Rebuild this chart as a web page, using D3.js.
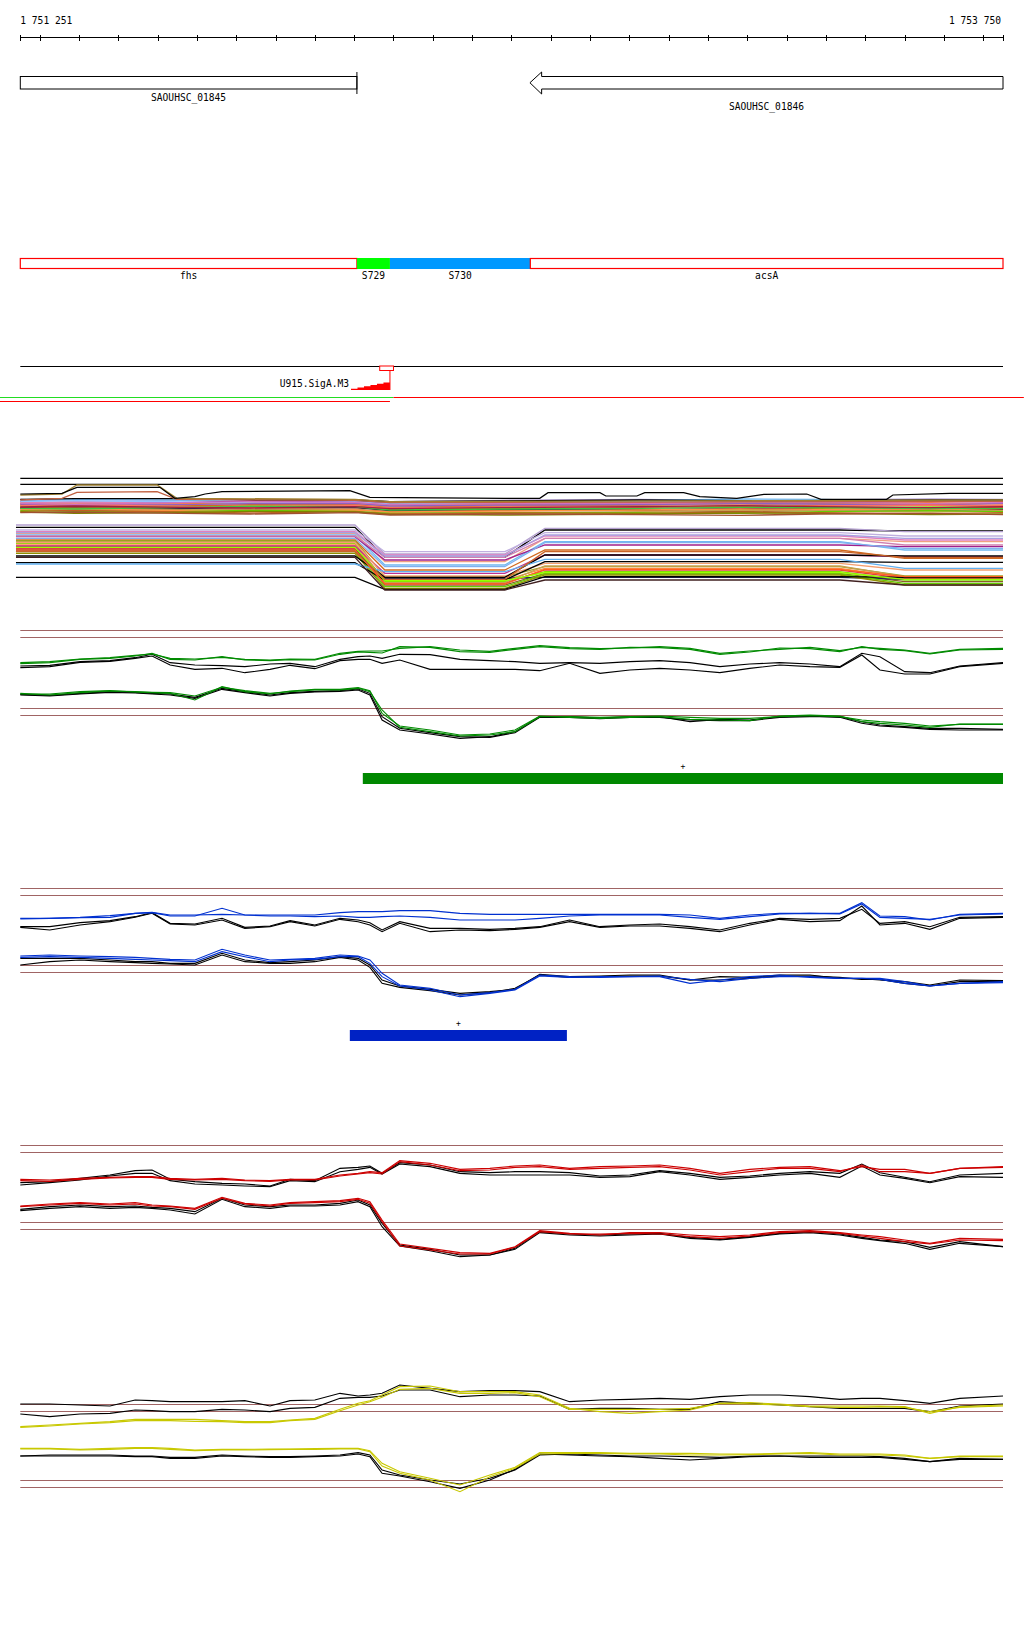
<!DOCTYPE html>
<html><head><meta charset="utf-8">
<script src="https://cdn.jsdelivr.net/npm/d3@7"></script>
<style>
body{margin:0;background:#fff}
svg{display:block}
text{font-family:"DejaVu Sans Mono",monospace;font-size:9.6px;fill:#000}
</style></head>
<body><svg id="c" width="1024" height="1640"></svg>
<script>
// ---------------- DATA ----------------
const regionStart = 1751251, regionEnd = 1753750;
const rulerLabels = ["1 751 251", "1 753 750"];
const rulerTicks = [1751251].concat(d3.range(1751300, 1753750, 100)).concat([1753750]);

const geneNames  = ["SAOUHSC_01845", "SAOUHSC_01846"];
const geneStarts = [1751251, 1752547];
const geneEnds   = [1752107, 1753750];
const geneStrand = ["+", "-"];

const featNames  = ["fhs", "S729", "S730", "acsA"];
const featStarts = [1751251, 1752107, 1752191, 1752548];
const featEnds   = [1752107, 1752191, 1752548, 1753750];
const featKind   = ["cds", "srnaA", "srnaB", "cds"];

const promoterName = "U915.SigA.M3";
const promoterStart = 1752092, promoterSite = 1752191;
const promoterBoxStart = 1752165, promoterBoxEnd = 1752200;

const tuStarts = [1751199, 1752200, 1751199];
const tuEnds   = [1752200, 1753803, 1752191];
const tuKind   = ["green", "red", "red"];
const tuRow    = [0, 0, 1];

// probe positions for the expression traces
const probePos = [1751251,1751326,1751403,1751479,1751543,1751586,1751632,1751695,1751764,1751822,1751886,1751937,1752000,1752064,1752110,1752140,1752171,1752216,1752293,1752369,1752445,1752509,1752572,1752648,1752725,1752801,1752877,1752954,1753030,1753106,1753182,1753259,1753335,1753391,1753437,1753500,1753564,1753640,1753750];

// GREEN condition
const gUpC1 = [272,275,283,287,294,298,285,283,288,282,280,283,282,300,306,307,307,315,320,310,306,315,323,317,314,316,320,315,300,307,312,318,308,318,315,310,300,312,315];
const gUpC2 = [269,272,282,285,292,300,282,280,290,280,278,281,280,297,304,303,301,320,318,305,303,312,320,314,312,318,317,312,297,304,316,314,305,320,312,308,298,310,312];
const gUpK1 = [262,264,275,278,287,297,272,265,263,260,268,270,260,282,290,292,285,297,296,282,278,275,270,272,270,275,278,272,260,268,272,268,260,300,290,245,242,262,272];
const gUpK2 = [257,260,273,276,285,292,265,252,255,242,252,264,254,278,282,282,270,280,252,252,252,252,248,270,240,250,255,250,242,255,265,260,258,295,250,238,238,260,270];
const gLoC1 = [180,175,182,187,185,183,182,172,198,188,180,185,190,190,195,185,130,78,65,52,55,65,110,110,108,110,112,108,105,105,110,113,110,100,95,90,82,87,87];
const gLoC2 = [178,178,185,188,184,182,180,160,200,185,178,187,192,192,197,188,120,82,70,55,58,70,112,108,105,108,110,102,100,98,112,115,112,95,90,85,78,88,88];
const gLoK1 = [177,174,180,185,183,180,178,168,195,185,175,182,186,188,193,180,110,75,62,50,48,62,108,108,104,108,108,100,98,98,108,110,110,95,85,80,75,75,72];
const gLoK2 = [175,172,178,183,181,178,175,165,192,182,172,180,184,186,190,175,100,70,58,45,50,65,110,110,106,110,110,95,102,100,110,112,108,90,82,78,72,70,70];
const gRef = [369, 348, 135, 114];
const gSegStart = 1752122, gSegEnd = 1753750;

// BLUE condition
const bUpC1 = [285,285,287,288,300,303,295,295,297,295,295,295,295,302,305,305,305,308,308,300,297,297,297,297,297,297,297,295,285,295,300,300,300,332,292,290,280,297,300];
const bUpC2 = [283,285,288,293,300,302,292,292,315,295,292,292,290,292,288,288,290,292,288,280,280,280,285,292,295,295,295,288,282,290,298,300,298,328,288,285,282,295,298];
const bUpK1 = [260,260,272,278,290,302,270,268,285,258,262,278,265,285,280,272,250,275,255,255,252,255,260,280,260,265,268,260,250,270,285,282,285,312,270,275,260,288,290];
const bUpK2 = [258,250,265,275,288,300,268,265,280,255,260,275,262,282,275,265,245,270,245,250,248,252,258,275,258,262,262,255,245,265,282,275,278,322,265,270,252,285,288];
const bLoC1 = [172,175,172,170,168,165,162,160,192,175,160,162,165,175,172,160,120,85,75,55,62,72,115,110,108,110,112,102,95,105,110,110,105,105,105,95,82,90,95];
const bLoC2 = [168,170,168,165,162,160,158,155,185,170,155,160,162,170,170,150,110,82,70,50,60,70,112,108,110,110,110,90,100,110,115,108,105,105,102,90,82,90,92];
const bLoK1 = [165,165,165,160,155,155,150,150,180,160,152,155,160,170,165,145,100,82,72,60,65,72,117,110,112,115,115,100,110,108,115,115,105,104,100,95,85,100,98];
const bLoK2 = [145,155,160,155,152,150,148,145,175,155,150,150,155,168,160,138,90,78,68,55,62,75,115,108,110,112,112,100,100,105,112,112,108,102,102,90,82,95,95];
const bRef = [375, 354, 144, 123];
const bSegStart = 1752089, bSegEnd = 1752641;

// RED condition
const rUpC1 = [282,280,285,288,290,290,285,282,285,280,278,282,282,295,300,305,302,338,330,312,315,322,325,315,320,322,325,315,300,312,318,320,308,320,312,312,300,315,320];
const rUpC2 = [278,276,282,286,288,288,282,280,282,278,276,280,280,292,298,302,298,335,325,308,310,318,320,312,315,318,320,310,295,305,315,315,305,325,305,305,300,315,318];
const rUpK1 = [272,275,285,295,308,310,282,275,270,268,262,282,278,315,318,322,300,332,325,305,302,305,305,302,292,295,308,300,288,292,300,305,300,328,302,288,275,295,300];
const rUpK2 = [265,272,280,292,300,300,278,268,265,262,260,278,275,305,312,318,298,328,320,300,295,295,295,295,288,290,305,295,282,288,295,300,288,322,295,285,272,290,288];
const rLoC1 = [202,208,212,208,212,205,202,195,228,210,205,212,215,218,225,215,160,88,75,62,60,80,128,120,115,122,122,115,110,115,125,128,122,115,110,100,90,105,102];
const rLoC2 = [200,205,210,205,208,202,200,192,225,208,202,210,212,215,222,210,155,82,70,58,58,78,125,118,118,120,118,110,105,112,122,125,120,112,105,95,88,100,98];
const rLoK1 = [192,200,205,200,202,198,195,185,225,205,200,205,205,210,220,205,150,85,72,55,55,75,125,118,115,118,120,108,102,110,120,125,118,108,100,95,78,95,80];
const rLoK2 = [188,195,200,195,198,195,190,178,222,200,195,202,202,205,215,200,140,82,68,50,55,72,122,115,112,115,118,105,100,108,118,122,115,105,98,90,72,90,80];
const rRef = [384, 363, 153, 132];

// YELLOW condition
const yUpC1 = [260,265,270,275,282,282,282,282,278,275,275,280,285,312,330,338,355,380,382,365,365,365,355,315,305,300,305,310,330,332,328,322,322,322,322,320,300,320,325];
const yUpC2 = [258,262,268,272,278,278,278,276,275,272,272,278,282,308,325,335,348,372,375,360,360,362,350,312,312,312,312,315,330,328,325,320,318,318,320,318,305,318,322];
const yUpK1 = [328,328,325,322,340,338,335,335,335,338,322,338,340,360,352,355,360,385,375,365,368,368,365,335,340,342,345,342,350,355,355,350,342,345,345,338,330,345,352];
const yUpK2 = [298,290,298,300,310,308,305,305,312,310,305,315,318,345,348,348,352,370,370,350,355,355,352,312,315,315,312,312,335,330,325,320,315,315,315,315,305,322,328];
const yLoC1 = [195,195,192,195,197,197,195,190,192,192,193,193,194,195,195,188,150,125,105,85,115,138,182,182,182,180,180,180,178,178,180,182,178,178,178,175,165,172,172];
const yLoC2 = [193,193,190,192,195,195,192,188,190,190,191,192,192,193,193,185,142,120,100,65,110,135,178,180,180,178,178,175,175,176,178,180,175,175,175,172,165,170,170];
const yLoK1 = [172,175,175,175,172,172,168,168,175,172,170,170,172,175,182,175,130,115,100,88,105,130,175,178,175,172,172,170,168,172,172,172,172,172,170,165,155,165,162];
const yLoK2 = [172,172,172,172,170,170,165,165,172,170,168,168,170,172,178,170,120,112,95,75,100,132,178,175,172,170,165,160,165,170,172,168,168,168,168,162,155,162,162];
const yRef = [329, 308, 100, 78];

// many-sample overview: flat reference levels, upper strand bundle, lower strand bundle
const overviewRef = [375, 357];
const envPos = [1751251,1751357,1751395,1751606,1751644,1751695,1751721,1751764,1752089,1752140,1752481,1752572,1752593,1752725,1752740,1752819,1752839,1752938,1752979,1753073,1753142,1753251,1753287,1753454,1753470,1753615,1753750];
const envVal = [328,330,348,348,315,320,328,335,338,318,315,315,332,332,322,322,332,332,320,315,327,328,312,312,325,330,330];
const olivePos = [1751251,1751357,1751395,1751599,1751649,1752102,1752191,1753750];
const oliveVal = [325,328,355,355,315,312,305,310];
const rustVal  = [310,315,333,335,312,309,302,306];

const upPos = [1751251,1751390,1751657,1751835,1752102,1752191,1752471,1752826,1753081,1753284,1753564,1753750];
const upVals = [
 [312,306,308,311,310,305,309,312,308,310,313,312],
 [308,311,310,305,308,302,305,308,313,312,306,310],
 [305,300,302,307,305,300,303,302,300,305,308,305],
 [302,304,300,298,302,297,300,304,306,302,298,300],
 [300,296,298,302,300,294,297,298,295,300,302,298],
 [297,299,295,293,298,292,290,295,299,297,293,295],
 [295,291,292,296,295,288,292,292,289,294,296,292],
 [292,294,290,288,292,285,283,288,292,290,287,290],
 [290,286,288,291,288,280,284,282,280,285,289,287],
 [288,290,285,283,287,282,279,288,286,288,284,288],
 [286,282,284,287,288,278,281,280,284,282,279,282],
 [284,287,282,279,282,275,278,278,275,280,283,280],
 [282,279,280,284,282,272,270,275,279,278,274,278],
 [280,283,278,276,280,274,277,280,283,282,280,285],
 [278,276,275,279,276,270,272,272,270,275,278,275],
 [305,308,304,301,304,298,302,306,303,305,309,308],
 [298,294,296,299,300,292,295,296,299,298,295,300],
 [276,279,274,271,275,268,271,270,274,272,269,272],
 [274,270,272,276,274,267,265,268,271,270,266,268],
 [293,296,291,288,294,286,289,290,287,292,295,292],
 [300,297,302,305,303,296,299,300,304,304,300,302],
 [272,274,270,268,272,265,268,266,264,268,270,266],
 [285,283,288,291,290,280,283,285,288,288,284,285],
 [289,292,288,286,290,284,287,290,293,290,287,290],
 [312,314,314,311,310,305,307,310,308,308,310,310]
];
const upColors = ["#b4a0d8","#70b8f0","#a0208b","#e080b0","#ff7f27","#f09070","#d2691e","#a0a020","#80e000","#e03030","#202050","#8b5a2b","#c8a050","#ff9040","#66cc00","#90c0ff","#9060c0","#c06020","#808000","#ff7060","#d070c0","#a05030","#40c040","#a02040","#000000"];

const lowPos = [1751240,1752102,1752178,1752483,1752585,1753335,1753500,1753750];
// levels: [before drop, trough, after recovery, far right]
const lowLevels = [
 [228,138,220,217],[235,148,225,215],[220,155,212,202],[215,145,202,190],[210,125,195,185],
 [205,115,185,160],[200,130,175,170],[195,110,182,165],[190,100,160,135],[188,80,110,82],
 [180,65,95,70],[175,70,105,78],[170,55,90,65],[165,60,100,75],[160,75,78,72],
 [185,62,112,80],[155,50,88,60],[172,90,145,140],[182,82,120,100],[150,45,85,55],
 [142,78,145,142],[122,70,125,123],[118,95,132,105],[78,42,80,78],[138,40,70,55],
 [160,58,102,80],[168,68,92,72],[155,72,155,138],[202,138,195,175],[212,142,205,195]
];
const lowColors = ["#000000","#b4a0d0","#c0b0e0","#e080c0","#f0a080","#70b8f0","#a0208b","#80b0f0","#d2691e","#a0a020","#80e000","#ff8c40","#8b5a2b","#e04040","#202050","#c8a050","#66cc00","#c03090","#f4a070","#909000","#000000","#000000","#60b0f0","#000000","#402020","#ff6020","#99ff00","#c86428","#d080b0","#a8a0e0"];

// ---------------- DRAW ----------------
const svg = d3.select("#c");
const x = d3.scaleLinear().domain([regionStart, regionEnd]).range([20.3, 1003]);
const BROWN = "#a06464";

// ruler
const ruler = svg.append("g");
ruler.append("line").attr("x1", x(regionStart)).attr("x2", x(regionEnd)).attr("y1", 37.5).attr("y2", 37.5).attr("stroke", "#000");
ruler.selectAll("line.t").data(rulerTicks).join("line").attr("class","t")
  .attr("x1", d => Math.round(x(d)) + 0.5).attr("x2", d => Math.round(x(d)) + 0.5)
  .attr("y1", 35).attr("y2", 41).attr("stroke", "#000");
ruler.append("text").attr("x", x(regionStart)).attr("y", 24).text(rulerLabels[0]);
ruler.append("text").attr("x", x(regionEnd) - 2).attr("y", 24).attr("text-anchor","end").text(rulerLabels[1]);

// genes
const gG = svg.append("g");
geneNames.forEach((name, i) => {
  const a = x(geneStarts[i]), b = x(geneEnds[i]);
  if (geneStrand[i] === "+") {
    gG.append("rect").attr("x", a).attr("y", 76.5).attr("width", b - a).attr("height", 12.5)
      .attr("fill", "#fff").attr("stroke", "#000");
    gG.append("line").attr("x1", b).attr("x2", b).attr("y1", 72).attr("y2", 94).attr("stroke", "#000");
    gG.append("text").attr("x", (a + b) / 2).attr("y", 101).attr("text-anchor","middle").text(name);
  } else {
    const h = 11.7;
    const pts = [[a, 82.75],[a + h, 72],[a + h, 76.5],[b, 76.5],[b, 89],[a + h, 89],[a + h, 94]];
    gG.append("polygon").attr("points", pts.map(p => p.join(",")).join(" "))
      .attr("fill", "#fff").attr("stroke", "#000");
    gG.append("text").attr("x", (a + b) / 2).attr("y", 110).attr("text-anchor","middle").text(name);
  }
});

// features
const featStyle = {cds: {fill:"#fff", stroke:"#ff0000"}, srnaA: {fill:"#00ff00", stroke:"none"}, srnaB: {fill:"#0099ff", stroke:"none"}};
const fG = svg.append("g");
featNames.forEach((name, i) => {
  const a = x(featStarts[i]), b = x(featEnds[i]);
  const st = featStyle[featKind[i]];
  fG.append("rect").attr("x", a).attr("y", st.stroke === "none" ? 258 : 258.5)
    .attr("width", b - a).attr("height", st.stroke === "none" ? 11 : 10)
    .attr("fill", st.fill).attr("stroke", st.stroke).attr("stroke-width", 1.2);
  fG.append("text").attr("x", (a + b) / 2).attr("y", 279).attr("text-anchor","middle").text(name);
});

// promoter track
const pG = svg.append("g");
pG.append("line").attr("x1", x(regionStart)).attr("x2", x(regionEnd)).attr("y1", 366.5).attr("y2", 366.5).attr("stroke", "#000").attr("stroke-width", 1.2);
pG.append("rect").attr("x", x(promoterBoxStart)).attr("y", 366).attr("width", x(promoterBoxEnd) - x(promoterBoxStart)).attr("height", 4.5)
  .attr("fill", "#fff").attr("stroke", "#ff0000");
pG.append("line").attr("x1", x(promoterSite)).attr("x2", x(promoterSite)).attr("y1", 370).attr("y2", 390).attr("stroke", "#ff0000");
{
  const a = x(promoterStart), b = x(promoterSite), n = 6, H = 7.5;
  let p = `M${a},390`;
  for (let k = 1; k <= n; k++) {
    const xa = a + (b - a) * (k - 1) / n, xb = a + (b - a) * k / n;
    const hh = H * k / n;
    p += `L${xa},${390 - hh}L${xb},${390 - hh}`;
  }
  p += `L${b},390Z`;
  pG.append("path").attr("d", p).attr("fill", "#ff0000");
  pG.append("text").attr("x", a - 2).attr("y", 387).attr("text-anchor","end").text(promoterName);
}
const tuColor = {green: "#22dd22", red: "#ff0000"};
tuStarts.forEach((s, i) => {
  const yy = tuRow[i] === 0 ? 397.5 : 401.5;
  pG.append("line").attr("x1", x(s)).attr("x2", x(tuEnds[i])).attr("y1", yy).attr("y2", yy)
    .attr("stroke", tuColor[tuKind[i]]).attr("stroke-width", 1.2);
});

// overview of many samples
{
  const y0 = 470;
  const y = d3.scaleLinear().domain([400, 0]).range([y0, y0 + 400 / 3]);
  const g = svg.append("g");
  overviewRef.forEach(v => g.append("line").attr("x1", x(regionStart)).attr("x2", x(regionEnd))
    .attr("y1", y(v)).attr("y2", y(v)).attr("stroke", "#000").attr("stroke-width", 1.2));
  const ln = (pos) => d3.line().x((d, i) => x(pos[i])).y(d => y(d)).curve(d3.curveStepAfter);
  const lnL = (pos) => d3.line().x((d, i) => x(pos[i])).y(d => y(d));
  upVals.forEach((vals, i) => g.append("path").attr("d", lnL(upPos)(vals)).attr("fill","none").attr("stroke", upColors[i]).attr("stroke-width", 1.4));
  g.append("path").attr("d", lnL(olivePos)(rustVal)).attr("fill","none").attr("stroke", "#c06040").attr("stroke-width", 1.3);
  g.append("path").attr("d", lnL(olivePos)(oliveVal)).attr("fill","none").attr("stroke", "#a08030").attr("stroke-width", 1.3);
  g.append("path").attr("d", lnL(envPos)(envVal)).attr("fill","none").attr("stroke", "#000").attr("stroke-width", 1.2);
  lowLevels.forEach((lv, i) => {
    const vals = [lv[0], lv[0], lv[1], lv[1], lv[2], lv[2], lv[3], lv[3]];
    g.append("path").attr("d", lnL(lowPos)(vals)).attr("fill","none").attr("stroke", lowColors[i]).attr("stroke-width", 1.3);
  });
}

// condition panels
const panels = [
  {y0: 620, color: "#008a00", up: [gUpK1, gUpK2, gUpC2, gUpC1], lo: [gLoK2, gLoK1, gLoC2, gLoC1], ref: gRef,
   seg: [gSegStart, gSegEnd], segY: 773, segColor: "#008800"},
  {y0: 880, color: "#0030d0", up: [bUpK1, bUpK2, bUpC2, bUpC1], lo: [bLoK2, bLoK1, bLoC2, bLoC1], ref: bRef,
   seg: [bSegStart, bSegEnd], segY: 1030, segColor: "#0022c4"},
  {y0: 1140, color: "#cc0000", up: [rUpK1, rUpK2, rUpC2, rUpC1], lo: [rLoK2, rLoK1, rLoC2, rLoC1], ref: rRef},
  {y0: 1380, color: "#c8c800", up: [yUpK1, yUpK2, yUpC2, yUpC1], lo: [yLoK2, yLoK1, yLoC2, yLoC1], ref: yRef}
];
panels.forEach(p => {
  const y = d3.scaleLinear().domain([400, 0]).range([p.y0, p.y0 + 400 / 3]);
  const g = svg.append("g");
  p.ref.forEach(v => g.append("line").attr("x1", x(regionStart)).attr("x2", x(regionEnd))
    .attr("y1", Math.round(y(v)) + 0.5).attr("y2", Math.round(y(v)) + 0.5).attr("stroke", BROWN).attr("stroke-width", 1.2));
  const line = d3.line().x((d, i) => x(probePos[i])).y(d => y(d));
  [p.up, p.lo].forEach(set => set.forEach((vals, k) => {
    g.append("path").attr("d", line(vals)).attr("fill", "none")
      .attr("stroke", k < 2 ? "#000" : p.color).attr("stroke-width", 1.1);
  }));
  if (p.seg) {
    const a = x(p.seg[0]), b = x(p.seg[1]);
    g.append("rect").attr("x", a).attr("y", p.segY).attr("width", b - a).attr("height", 11).attr("fill", p.segColor);
    g.append("text").attr("x", (a + b) / 2).attr("y", p.segY - 4).attr("text-anchor", "middle").style("font-size", "8px").text("+");
  }
});
</script></body></html>
